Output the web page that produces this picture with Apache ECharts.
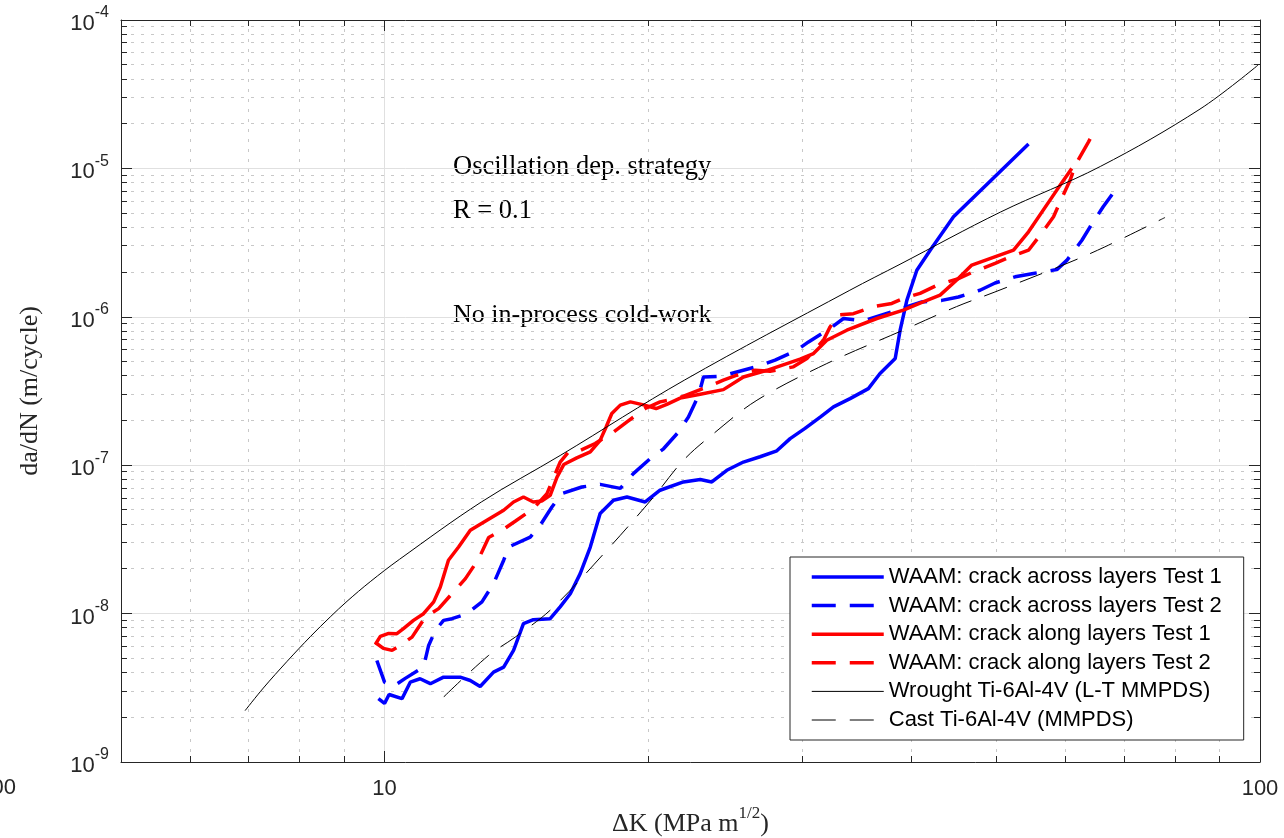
<!DOCTYPE html>
<html><head><meta charset="utf-8">
<script src="https://cdn.jsdelivr.net/npm/echarts@6/dist/echarts.min.js"></script>
<style>html,body{margin:0;padding:0;background:#fff}#c{width:1284px;height:838px}</style>
</head><body><div id="c"></div>
<script>
// ---- axis ranges / ticks ----
const X_MIN = 5, X_MAX = 100, Y_MIN = 1e-9, Y_MAX = 1e-4;
const xMinorTicks = [6, 7, 8, 9, 20, 30, 40, 50, 60, 70, 80, 90];
const yDecades = [-9, -8, -7, -6, -5];
const yMantissas = [2, 3, 4, 5, 6, 7, 8, 9];

// ---- series data (ΔK in MPa·m^1/2, da/dN in m/cycle) ----
const blueSolidK = [9.84, 10.0, 10.12, 10.47, 10.70, 10.98, 11.28, 11.68, 12.20, 12.53, 12.86, 13.32, 13.68, 14.04, 14.41, 14.79, 15.46, 15.87, 16.30, 16.73, 17.18, 17.63, 18.26, 18.92, 19.85, 20.64, 21.95, 22.94, 23.65, 24.60, 25.70, 26.85, 28.06, 29.06, 30.22, 31.45, 32.57, 34.02, 35.70, 36.81, 38.31, 38.81, 39.50, 40.55, 42.0, 44.66, 54.4];
const blueSolidDa = [2.67e-9, 2.48e-9, 2.85e-9, 2.67e-9, 3.45e-9, 3.64e-9, 3.37e-9, 3.73e-9, 3.73e-9, 3.54e-9, 3.23e-9, 4.03e-9, 4.36e-9, 5.65e-9, 8.55e-9, 9.09e-9, 9.24e-9, 1.11e-8, 1.36e-8, 1.86e-8, 2.81e-8, 4.72e-8, 5.80e-8, 6.10e-8, 5.65e-8, 6.78e-8, 7.71e-8, 8.00e-8, 7.71e-8, 9.24e-8, 1.05e-7, 1.14e-7, 1.25e-7, 1.51e-7, 1.77e-7, 2.11e-7, 2.47e-7, 2.81e-7, 3.28e-7, 4.15e-7, 5.24e-7, 8.12e-7, 1.29e-6, 2.06e-6, 2.81e-6, 4.72e-6, 1.46e-5];

const blueDashK = [9.80, 10.0, 10.23, 10.56, 11.08, 11.23, 11.43, 11.68, 11.94, 12.42, 12.92, 13.32, 13.68, 13.86, 14.67, 15.06, 15.53, 15.94, 16.80, 17.63, 18.59, 19.24, 20.12, 20.83, 21.62, 22.24, 22.84, 23.14, 24.28, 25.26, 26.73, 27.93, 29.57, 30.50, 32.28, 33.44, 35.24, 41.09, 43.30, 45.24, 47.88, 49.82, 52.52, 55.1, 58.6, 60.2, 62.6, 63.96, 66.2, 69.2];
const blueDashDa = [4.83e-9, 3.45e-9, 3.23e-9, 3.66e-9, 4.36e-9, 6.10e-9, 7.71e-9, 9.00e-9, 9.24e-9, 9.98e-9, 1.20e-8, 1.59e-8, 2.29e-8, 2.81e-8, 3.28e-8, 3.94e-8, 5.23e-8, 6.43e-8, 7.13e-8, 7.43e-8, 6.98e-8, 8.78e-8, 1.11e-7, 1.29e-7, 1.65e-7, 2.11e-7, 2.96e-7, 3.93e-7, 3.98e-7, 4.25e-7, 4.65e-7, 5.10e-7, 5.95e-7, 6.77e-7, 8.34e-7, 9.74e-7, 9.38e-7, 1.26e-6, 1.29e-6, 1.36e-6, 1.51e-6, 1.69e-6, 1.86e-6, 1.96e-6, 2.08e-6, 2.41e-6, 3.28e-6, 4.04e-6, 5.51e-6, 7.92e-6];

const redSolidK = [9.76, 9.89, 10.11, 10.33, 10.51, 10.79, 11.08, 11.38, 11.58, 11.83, 12.15, 12.53, 13.09, 13.68, 14.04, 14.41, 14.79, 15.12, 15.46, 15.74, 16.02, 16.58, 17.18, 17.63, 17.91, 18.18, 18.59, 19.09, 19.76, 20.43, 21.01, 21.76, 22.94, 24.38, 25.70, 27.34, 29.83, 30.90, 32.0, 33.73, 36.5, 39.14, 41.09, 43.11, 45.04, 46.86, 52.3, 54.4, 58.6, 60.95];
const redSolidDa = [6.20e-9, 7.02e-9, 7.35e-9, 7.32e-9, 7.91e-9, 9.00e-9, 9.98e-9, 1.20e-8, 1.51e-8, 2.29e-8, 2.81e-8, 3.64e-8, 4.25e-8, 4.97e-8, 5.65e-8, 6.10e-8, 5.65e-8, 5.74e-8, 6.27e-8, 8.32e-8, 1.01e-7, 1.12e-7, 1.23e-7, 1.47e-7, 1.81e-7, 2.23e-7, 2.54e-7, 2.67e-7, 2.55e-7, 2.41e-7, 2.57e-7, 2.83e-7, 3.01e-7, 3.23e-7, 3.93e-7, 4.36e-7, 5.18e-7, 5.65e-7, 6.95e-7, 8.12e-7, 9.74e-7, 1.11e-6, 1.25e-6, 1.40e-6, 1.77e-6, 2.23e-6, 2.81e-6, 3.74e-6, 7.14e-6, 1.00e-5];

const redDashK = [9.76, 9.97, 10.20, 10.37, 10.75, 11.13, 11.53, 11.99, 12.37, 12.81, 13.15, 13.62, 14.10, 14.79, 15.33, 15.87, 16.23, 16.65, 17.40, 18.26, 18.92, 19.85, 20.64, 21.58, 23.35, 24.38, 25.26, 26.50, 27.57, 29.31, 30.37, 31.72, 32.28, 32.99, 34.32, 36.17, 37.97, 39.14, 40.9, 42.74, 45.24, 47.06, 49.82, 51.83, 54.4, 56.1, 58.1, 59.1, 60.7, 61.5, 63.7, 65.1];
const redDashDa = [6.39e-9, 5.83e-9, 5.65e-9, 6.01e-9, 6.94e-9, 9.47e-9, 1.08e-8, 1.40e-8, 1.72e-8, 2.34e-8, 3.26e-8, 3.64e-8, 4.19e-8, 5.10e-8, 6.43e-8, 1.05e-7, 1.23e-7, 1.24e-7, 1.40e-7, 1.67e-7, 1.96e-7, 2.41e-7, 2.67e-7, 2.81e-7, 3.37e-7, 3.74e-7, 4.04e-7, 4.36e-7, 4.30e-7, 4.60e-7, 5.24e-7, 6.95e-7, 8.55e-7, 1.03e-6, 1.05e-6, 1.17e-6, 1.23e-6, 1.33e-6, 1.44e-6, 1.63e-6, 1.81e-6, 2.01e-6, 2.29e-6, 2.53e-6, 2.81e-6, 3.55e-6, 4.72e-6, 5.95e-6, 8.34e-6, 1.05e-5, 1.51e-5, 1.91e-5];

const wroughtK = [6.93, 7.27, 7.74, 8.23, 8.67, 9.06, 9.63, 10.4, 12.9, 15.9, 22.0, 34.0, 38.8, 50.5, 65.7, 85.4, 99.5];
const wroughtDa = [2.22e-9, 3.15e-9, 4.77e-9, 7.01e-9, 9.50e-9, 1.21e-8, 1.64e-8, 2.32e-8, 5.65e-8, 1.17e-7, 3.74e-7, 1.51e-6, 2.26e-6, 5.07e-6, 1.03e-5, 2.51e-5, 4.97e-5];

const castK = [11.68, 13.15, 14.10, 15.53, 17.87, 20.29, 21.95, 23.75, 26.63, 32.0, 39.1, 45.0, 49.8, 60.2, 66.5, 77.9];
const castDa = [2.74e-9, 5.23e-9, 6.94e-9, 1.08e-8, 2.60e-8, 6.10e-8, 1.08e-7, 1.63e-7, 2.74e-7, 4.84e-7, 8.12e-7, 1.17e-6, 1.47e-6, 2.29e-6, 2.96e-6, 4.67e-6];

const seriesNames = [
  'WAAM: crack across layers Test 1',
  'WAAM: crack across layers Test 2',
  'WAAM: crack along layers Test 1',
  'WAAM: crack along layers Test 2',
  'Wrought Ti-6Al-4V (L-T MMPDS)',
  'Cast Ti-6Al-4V (MMPDS)'
];
const annotations = ['Oscillation dep. strategy', 'R = 0.1', 'No in-process cold-work'];

// ---- build ----
const zip = (a, b) => a.map((v, i) => [v, b[i]]);
const yMinorTicks = [];
yDecades.forEach(e => yMantissas.forEach(m => yMinorTicks.push(m * Math.pow(10, e))));

const AX = '#262626';
const SANS = 'Liberation Sans';
const SERIF = 'Liberation Serif';
const DASH = [24, 14];

function lineSeries(name, data, color, width, dashed, z, smooth) {
  return {
    name, type: 'line', data, z,
    symbol: 'none', showSymbol: false, smooth: smooth || false, animation: false,
    clip: true,
    lineStyle: { color, width, type: dashed ? DASH : 'solid' },
    itemStyle: { color },
    emphasis: { disabled: true }
  };
}

const minorGridStyle = { stroke: '#c8c8c8', lineWidth: 1, lineDash: [3, 7] };
const tickStyle = { stroke: AX, lineWidth: 1 };
const snap = v => Math.round(v - 0.5) + 0.5;

const xMinorSeries = {
  type: 'custom', z: 1, silent: true, animation: false,
  data: xMinorTicks.map(v => [v, Y_MIN]),
  renderItem: function (params, api) {
    const v = api.value(0);
    const a = api.coord([v, Y_MIN]);
    const b = api.coord([v, Y_MAX]);
    const x = snap(a[0]);
    return { type: 'group', children: [
      { type: 'line', shape: { x1: x, y1: a[1], x2: x, y2: b[1] }, style: minorGridStyle },
      { type: 'line', shape: { x1: x, y1: a[1], x2: x, y2: a[1] - 6 }, style: tickStyle },
      { type: 'line', shape: { x1: x, y1: b[1], x2: x, y2: b[1] + 6 }, style: tickStyle }
    ]};
  }
};
const yMinorSeries = {
  type: 'custom', z: 1, silent: true, animation: false,
  data: yMinorTicks.map(v => [X_MIN, v]),
  renderItem: function (params, api) {
    const v = api.value(1);
    const a = api.coord([X_MIN, v]);
    const b = api.coord([X_MAX, v]);
    const y = snap(a[1]);
    return { type: 'group', children: [
      { type: 'line', shape: { x1: a[0], y1: y, x2: b[0], y2: y }, style: minorGridStyle },
      { type: 'line', shape: { x1: a[0], y1: y, x2: a[0] + 6, y2: y }, style: tickStyle },
      { type: 'line', shape: { x1: b[0], y1: y, x2: b[0] - 6, y2: y }, style: tickStyle }
    ]};
  }
};

const baseAxis = {
  axisLine: { show: true, onZero: false, lineStyle: { color: AX, width: 1 } },
  axisTick: { show: true, inside: true, length: 11, lineStyle: { color: AX, width: 1 } }
};

const option = {
  backgroundColor: '#ffffff',
  animation: false,
  grid: { left: 121, right: 24, top: 20, bottom: 76, containLabel: false, outerBoundsMode: 'none' },
  xAxis: [
    Object.assign({}, baseAxis, {
      type: 'log', logBase: 10, min: X_MIN, max: X_MAX, position: 'bottom',
      name: '{a|ΔK (MPa m}{s|1/2}{a|)}', nameLocation: 'middle', nameGap: 43,
      nameTextStyle: { rich: {
        a: { fontFamily: SERIF, fontSize: 26, color: AX, lineHeight: 32, verticalAlign: 'bottom' },
        s: { fontFamily: SERIF, fontSize: 17, color: AX, lineHeight: 32, verticalAlign: 'top' }
      }},
      splitLine: { show: true, lineStyle: { color: '#e0e0e0', width: 1 } },
      axisLabel: {
        show: true, margin: 16, color: AX, fontFamily: SANS, fontSize: 22,
        showMinLabel: true, showMaxLabel: true,
        formatter: v => { const e = Math.log10(v); return Math.abs(e - Math.round(e)) < 1e-6 ? String(Math.round(v)) : ''; }
      }
    }),
    Object.assign({}, baseAxis, {
      type: 'log', logBase: 10, min: X_MIN, max: X_MAX, position: 'top',
      axisLabel: { show: false }, splitLine: { show: false }
    })
  ],
  yAxis: [
    Object.assign({}, baseAxis, {
      type: 'log', logBase: 10, min: Y_MIN, max: Y_MAX, position: 'left',
      name: 'da/dN (m/cycle)', nameLocation: 'middle', nameGap: 78,
      nameTextStyle: { fontFamily: SERIF, fontSize: 26, color: AX },
      splitLine: { show: true, lineStyle: { color: '#e0e0e0', width: 1 } },
      axisLabel: {
        show: true, margin: 12,
        formatter: v => '{b|10}{s|' + Math.round(Math.log10(v)) + '}',
        rich: {
          b: { fontFamily: SANS, fontSize: 22, color: AX, lineHeight: 30, verticalAlign: 'bottom' },
          s: { fontFamily: SANS, fontSize: 16, color: AX, lineHeight: 30, verticalAlign: 'top' }
        }
      }
    }),
    Object.assign({}, baseAxis, {
      type: 'log', logBase: 10, min: Y_MIN, max: Y_MAX, position: 'right',
      axisLabel: { show: false }, splitLine: { show: false }
    })
  ],
  legend: {
    data: seriesNames, orient: 'vertical', left: 790, top: 557,
    selectedMode: false,
    itemWidth: 72, itemHeight: 14, itemGap: 6.6,
    padding: [9, 22, 9, 20],
    itemStyle: { opacity: 0 },
    lineStyle: { width: 'inherit', opacity: 1 },
    backgroundColor: '#ffffff', borderColor: AX, borderWidth: 1, borderRadius: 0,
    textStyle: { fontFamily: SANS, fontSize: 22, color: '#000', lineHeight: 22 }
  },
  graphic: [
    { type: 'text', silent: true,
      style: { text: '100', x: 16, y: 788, textAlign: 'right', textVerticalAlign: 'middle', font: '22px "Liberation Sans"', fill: AX } },
    { type: 'text', silent: true,
      style: { text: annotations[0], x: 453, y: 167, textAlign: 'left', textVerticalAlign: 'middle', font: '26.5px "Liberation Serif"', fill: '#000' } },
    { type: 'text', silent: true,
      style: { text: annotations[1], x: 453, y: 211, textAlign: 'left', textVerticalAlign: 'middle', font: '26.5px "Liberation Serif"', fill: '#000' } },
    { type: 'text', silent: true,
      style: { text: annotations[2], x: 453, y: 315, textAlign: 'left', textVerticalAlign: 'middle', font: '26px "Liberation Serif"', fill: '#000' } }
  ],
  series: [
    xMinorSeries, yMinorSeries,
    lineSeries(seriesNames[0], zip(blueSolidK, blueSolidDa), '#0000ff', 3.5, false, 3),
    lineSeries(seriesNames[1], zip(blueDashK, blueDashDa), '#0000ff', 3.5, true, 3),
    lineSeries(seriesNames[2], zip(redSolidK, redSolidDa), '#ff0000', 3.5, false, 3),
    lineSeries(seriesNames[3], zip(redDashK, redDashDa), '#ff0000', 3.5, true, 3),
    lineSeries(seriesNames[4], zip(wroughtK, wroughtDa), '#000000', 1, false, 4, 0.35),
    lineSeries(seriesNames[5], zip(castK, castDa), '#000000', 1, true, 4, 0.35)
  ]
};

const chart = echarts.init(document.getElementById('c'), null, { renderer: 'canvas' });
chart.setOption(option);
</script></body></html>
